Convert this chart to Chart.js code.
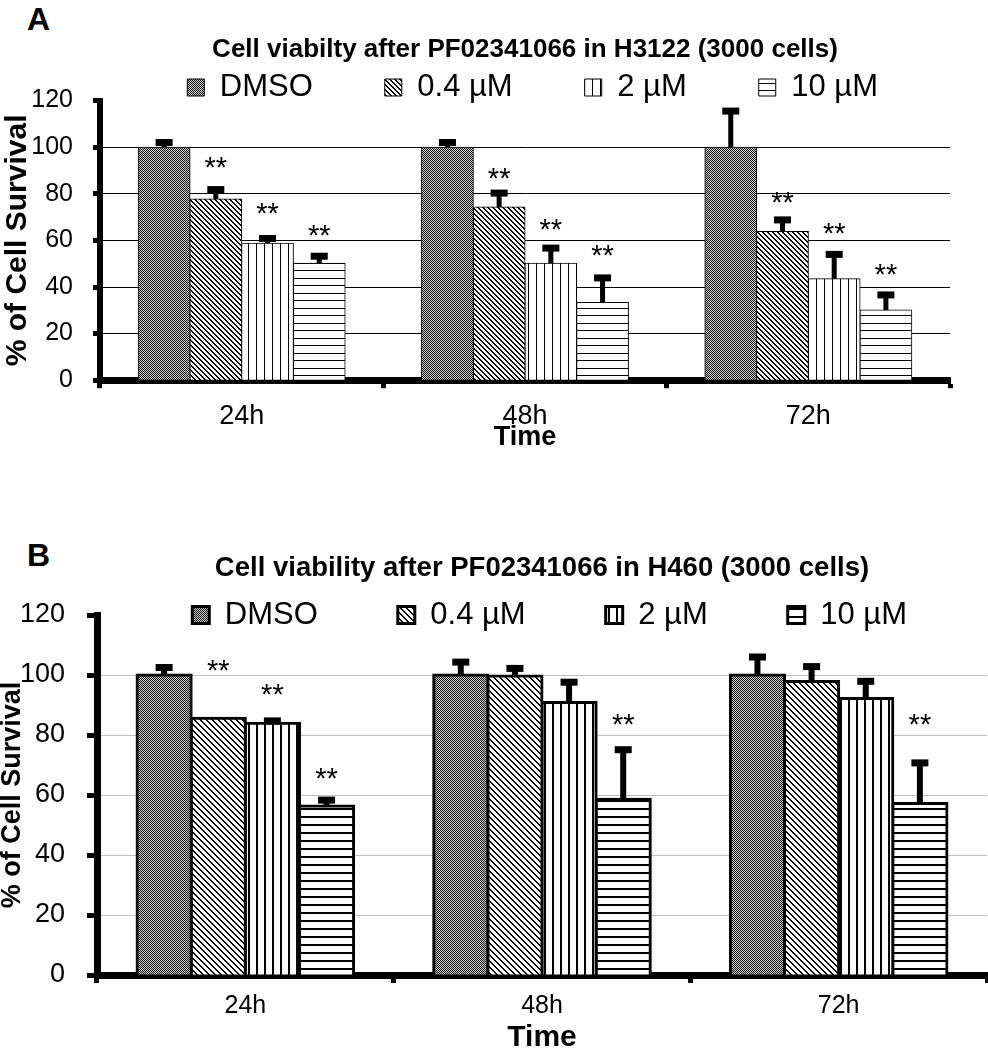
<!DOCTYPE html>
<html>
<head>
<meta charset="utf-8">
<script src="https://cdn.jsdelivr.net/npm/chart.js@4.4.0/dist/chart.umd.min.js"></script>
<style>
  html, body { margin: 0; padding: 0; background: #fff; overflow: hidden; }
  body { width: 988px; height: 1050px; position: relative; }
  .panel { position: absolute; left: 0; }
  .tag { position: absolute; left: 27px; font: bold 32px Arial, "Liberation Sans", sans-serif; line-height: 32px; color: #000; }
</style>
</head>
<body>
<div class="tag" style="top:3px">A</div>
<div class="tag" style="top:539px">B</div>
<canvas id="chartA" class="panel" width="988" height="454" style="top:0"></canvas>
<canvas id="chartB" class="panel" width="988" height="608" style="top:448px"></canvas>
<script>
// Categories
const timeLabels = ['24h', '48h', '72h'];
const doseLabels = ['DMSO', '0.4 µM', '2 µM', '10 µM'];

// Panel A - H3122, % of cell survival
const h3122Dmso = [100, 100, 100];
const h3122Low = [77.8, 74.3, 63.8];
const h3122Mid = [58.8, 50.2, 43.5];
const h3122High = [50.2, 33.4, 30.1];
// upper error bars
const h3122DmsoErr = [2, 2, 15.5];
const h3122LowErr = [4, 6, 5];
const h3122MidErr = [2, 6.5, 10.5];
const h3122HighErr = [3, 10.5, 6.5];
// height (y value) of the ** marks, null = none
const h3122DmsoStars = [null, null, null];
const h3122LowStars = [94.3, 89.5, 79.2];
const h3122MidStars = [74.5, 67.6, 65.9];
const h3122HighStars = [65, 56.4, 48.2];

// Panel B - H460
const h460Dmso = [100, 100, 100];
const h460Low = [85.6, 99.7, 97.8];
const h460Mid = [83.9, 90.8, 92.2];
const h460High = [56.3, 58.6, 57.2];
const h460DmsoErr = [2.5, 4.3, 6];
const h460LowErr = [0, 2.5, 5];
const h460MidErr = [0.8, 6.8, 5.7];
const h460HighErr = [2, 16.5, 13.5];
const h460DmsoStars = [null, null, null];
const h460LowStars = [103.7, null, null];
const h460MidStars = [95.7, null, null];
const h460HighStars = [68, 85.7, 85.7];

// y axis
const yMin = 0;
const yMax = 120;
const yStep = 20;

Chart.defaults.font.family = 'Arial, "Liberation Sans", sans-serif';
Chart.defaults.color = '#000';

// Hatch fills like the Excel originals
function makePattern(kind, period, lw) {
    const c = document.createElement('canvas');
    const g = c.getContext('2d');
    if (kind === 'checker') {
        c.width = 2; c.height = 2;
        g.fillStyle = '#d4d4d4';
        g.fillRect(0, 0, 2, 2);
        g.fillStyle = '#111';
        g.fillRect(0, 0, 1, 1);
        g.fillRect(1, 1, 1, 1);
    } else if (kind === 'diag') {
        c.width = period; c.height = period;
        g.fillStyle = '#fff';
        g.fillRect(0, 0, period, period);
        g.fillStyle = '#000';
        for (let i = 0; i < period; i++) {
            for (let k = 0; k < lw; k++) g.fillRect((i + k) % period, i, 1, 1);
        }
    } else if (kind === 'vert') {
        c.width = period; c.height = 1;
        g.fillStyle = '#fff';
        g.fillRect(0, 0, period, 1);
        g.fillStyle = '#000';
        g.fillRect(0, 0, lw, 1);
    } else if (kind === 'horiz') {
        // two lines per tile so the spacing can average half pixels
        c.width = 1; c.height = period * 2;
        g.fillStyle = '#fff';
        g.fillRect(0, 0, 1, period * 2);
        g.fillStyle = '#000';
        g.fillRect(0, 0, 1, lw);
        g.fillRect(0, Math.round(period), 1, lw);
    }
    return g.createPattern(c, 'repeat');
}

// error bars (upper half only) and ** marks
const errorBarPlugin = {
    id: 'errorBars',
    afterDatasetsDraw(chart, args, opts) {
        const ctx = chart.ctx;
        const yScale = chart.scales.y;
        ctx.save();
        ctx.fillStyle = '#000';
        chart.data.datasets.forEach((ds, i) => {
            const meta = chart.getDatasetMeta(i);
            meta.data.forEach((bar, j) => {
                const err = ds.errors[j];
                if (err > 0) {
                    const yTop = yScale.getPixelForValue(ds.data[j] + err);
                    ctx.fillRect(bar.x - opts.stemWidth / 2, yTop, opts.stemWidth, bar.y - yTop);
                    ctx.fillRect(bar.x - opts.capWidth / 2, yTop - opts.capHeight / 2, opts.capWidth, opts.capHeight);
                }
                const star = ds.stars[j];
                if (star !== null) {
                    ctx.font = opts.starSize + 'px Arial, "Liberation Sans", sans-serif';
                    ctx.textAlign = 'center';
                    ctx.textBaseline = 'alphabetic';
                    ctx.fillText('**', bar.x, yScale.getPixelForValue(star) + 0.57 * opts.starSize);
                }
            });
        });
        ctx.restore();
    }
};

// The legend sits in the gap under the title (it overlaps the plot top in B),
// so its layout box is kept small; widen its clip box again after layout.
const legendClipPlugin = {
    id: 'legendClip',
    afterLayout(chart) {
        const lg = chart.legend;
        if (!lg) return;
        lg.height = 160;
        lg.bottom = lg.top + 160;
    }
};

function drawViabilityChart(canvasId, values, errors, stars, look) {
    const fills = [
        makePattern('checker'),
        makePattern('diag', look.diagPeriod, 2),
        makePattern('vert', 8, look.stripeWidth),
        makePattern('horiz', look.horizPeriod, look.stripeWidth)
    ];

    const datasets = doseLabels.map((label, i) => ({
        label: label,
        data: values[i],
        errors: errors[i],
        stars: stars[i],
        backgroundColor: fills[i],
        borderColor: '#000',
        borderWidth: look.barBorder,
        inflateAmount: look.barBorder / 2,
        categoryPercentage: 0.73,
        barPercentage: 1
    }));

    return new Chart(document.getElementById(canvasId).getContext('2d'), {
        type: 'bar',
        data: { labels: timeLabels, datasets: datasets },
        options: {
            responsive: false,
            animation: false,
            devicePixelRatio: 1,
            events: [],
            layout: { padding: look.layoutPadding },
            plugins: {
                tooltip: { enabled: false },
                title: {
                    display: true,
                    text: look.title,
                    fullSize: false,
                    color: '#000',
                    font: { size: look.titleSize, weight: 'bold' },
                    padding: look.titlePadding
                },
                legend: {
                    display: true,
                    position: 'top',
                    align: 'end',
                    fullSize: true,
                    weight: 3000,
                    maxHeight: look.legendMaxHeight,
                    labels: {
                        boxWidth: 17,
                        boxHeight: 17,
                        padding: look.legendPadding,
                        color: '#000',
                        font: { size: 31 }
                    }
                },
                errorBars: look.errorBars
            },
            scales: {
                x: {
                    z: 1,
                    offset: true,
                    grid: {
                        display: true,
                        drawOnChartArea: false,
                        offset: true,
                        tickLength: look.xTickLength,
                        tickWidth: 5,
                        tickColor: '#000'
                    },
                    border: { display: true, width: 7, color: '#000' },
                    ticks: { color: '#000', font: { size: look.xLabelSize }, padding: look.xLabelPadding },
                    title: {
                        display: true,
                        text: 'Time',
                        color: '#000',
                        font: { size: look.xTitleSize, weight: 'bold' },
                        padding: look.xTitlePadding
                    }
                },
                y: {
                    min: yMin,
                    max: yMax,
                    afterFit: (scale) => { scale.width = look.yAxisWidth; },
                    grid: {
                        color: (c) => (c.tick && c.tick.value === yMax) ? 'rgba(0,0,0,0)' : look.gridColor,
                        lineWidth: 1,
                        tickLength: look.yTickLength,
                        tickWidth: 5,
                        tickColor: '#000'
                    },
                    border: { display: true, width: look.yBorder, color: '#000' },
                    ticks: { stepSize: yStep, color: '#000', font: { size: look.yLabelSize }, padding: look.yLabelPadding },
                    title: {
                        display: true,
                        text: '% of Cell Survival',
                        color: '#000',
                        font: { size: look.yTitleSize, weight: 'bold' },
                        padding: { top: look.yTitleOffset, bottom: 0 }
                    }
                }
            }
        },
        plugins: [errorBarPlugin, legendClipPlugin]
    });
}

drawViabilityChart('chartA',
    [h3122Dmso, h3122Low, h3122Mid, h3122High],
    [h3122DmsoErr, h3122LowErr, h3122MidErr, h3122HighErr],
    [h3122DmsoStars, h3122LowStars, h3122MidStars, h3122HighStars],
    {
        title: 'Cell viabilty after PF02341066 in H3122 (3000 cells)',
        titleSize: 26,
        titlePadding: { top: 14.4, bottom: 35 },
        layoutPadding: { top: 0, right: 38, bottom: 0, left: 0 },
        legendPadding: 72,
        legendMaxHeight: 20,
        barBorder: 1,
        diagPeriod: 5,
        horizPeriod: 7.5,
        stripeWidth: 1,
        gridColor: '#000',
        xTickLength: 8,
        xLabelSize: 27,
        xLabelPadding: 12.5,
        xTitleSize: 27,
        xTitlePadding: { top: -24, bottom: 0 },
        yAxisWidth: 100,
        yTickLength: 7,
        yBorder: 6,
        yLabelSize: 25,
        yLabelPadding: 20,
        yTitleSize: 30,
        yTitleOffset: 0,
        errorBars: { stemWidth: 5, capWidth: 17, capHeight: 7, starSize: 29 }
    });

drawViabilityChart('chartB',
    [h460Dmso, h460Low, h460Mid, h460High],
    [h460DmsoErr, h460LowErr, h460MidErr, h460HighErr],
    [h460DmsoStars, h460LowStars, h460MidStars, h460HighStars],
    {
        title: 'Cell viability after PF02341066 in H460 (3000 cells)',
        titleSize: 27.5,
        titlePadding: { top: 31, bottom: 30.5 },
        layoutPadding: { top: 71.5, right: 1, bottom: 0, left: 0 },
        legendPadding: 80,
        legendMaxHeight: 1,
        barBorder: 3,
        diagPeriod: 6,
        horizPeriod: 8,
        stripeWidth: 2,
        gridColor: '#bfbfbf',
        xTickLength: 8,
        xLabelSize: 25,
        xLabelPadding: 8,
        xTitleSize: 30,
        xTitlePadding: { top: -9, bottom: 0 },
        yAxisWidth: 97,
        yTickLength: 10,
        yBorder: 7,
        yLabelSize: 27,
        yLabelPadding: 22,
        yTitleSize: 27,
        yTitleOffset: -4,
        errorBars: { stemWidth: 6, capWidth: 17, capHeight: 7, starSize: 29 }
    });
</script>
</body>
</html>
